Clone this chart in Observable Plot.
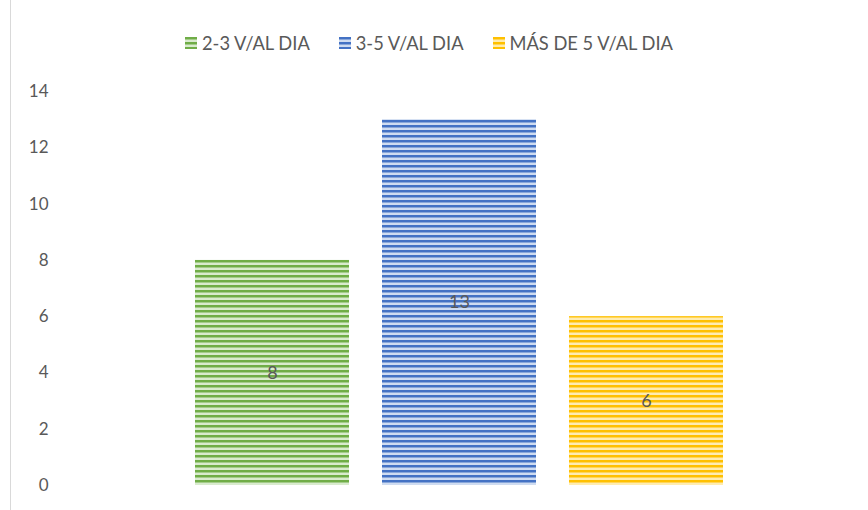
<!DOCTYPE html>
<html><head><meta charset="utf-8">
<script src="https://cdn.jsdelivr.net/npm/d3@7"></script>
<script src="https://cdn.jsdelivr.net/npm/@observablehq/plot@0.6"></script>
<style>
body{margin:0;background:#fff;font-family:Lato,"Open Sans",sans-serif;}
#wrap{position:relative;width:868px;height:510px;overflow:hidden;}
#frame{position:absolute;left:10px;top:0;width:0;height:510px;border-left:1px solid #d9d9d9;}
#legend{position:absolute;top:32px;left:0;width:868px;display:flex;justify-content:center;gap:29px;font-size:18.3px;color:#595959;margin-left:-5px;}
#legend span.item{display:flex;align-items:center;gap:5px;}
#legend svg{display:block}
</style></head>
<body><div id="wrap"><div id="frame"></div><div id="legend"></div><div id="chart"></div></div>
<script>
const series = ["2-3 V/AL DIA", "3-5 V/AL DIA", "MÁS DE 5 V/AL DIA"];
const values = [8, 13, 6];
const yTicks = [0, 2, 4, 6, 8, 10, 12, 14];
const baseColors = ["#70ad47", "#4472c4", "#ffc000"];
const lightColors = ["#d9ebce", "#cfdcf1", "#ffecb0"];
const patternIds = ["pat-green", "pat-blue", "pat-yellow"];

const data = series.map((s, i) => ({series: s, value: values[i], fill: `url(#${patternIds[i]})`}));

const chart = Plot.plot({
  width: 868,
  height: 510,
  marginTop: 91,
  marginBottom: 25,
  marginLeft: 61,
  marginRight: 11,
  style: {fontFamily: "Lato, 'Open Sans', sans-serif", fontSize: "17px", color: "#595959", background: "transparent"},
  x: {domain: series, paddingInner: 0.175, paddingOuter: 0.71, axis: null},
  y: {domain: [0, 14], ticks: yTicks, tickSize: 0, tickPadding: 13, label: null},
  color: {type: "ordinal", domain: series, range: data.map(d => d.fill)},
  marks: [
    Plot.barY(data, {x: "series", y: "value", fill: "series"}),
    Plot.text(data, {x: "series", y: d => d.value / 2, text: d => String(d.value), fill: "#595959", fontSize: 18})
  ]
});

// pattern defs
const ns = "http://www.w3.org/2000/svg";
const defs = document.createElementNS(ns, "defs");
patternIds.forEach((id, i) => {
  const p = document.createElementNS(ns, "pattern");
  p.setAttribute("id", id);
  p.setAttribute("patternUnits", "userSpaceOnUse");
  p.setAttribute("width", 8);
  p.setAttribute("height", 5);
  const r1 = document.createElementNS(ns, "rect");
  r1.setAttribute("width", 8); r1.setAttribute("height", 5); r1.setAttribute("fill", lightColors[i]);
  const r2 = document.createElementNS(ns, "rect");
  r2.setAttribute("width", 8); r2.setAttribute("height", 2.5); r2.setAttribute("fill", baseColors[i]);
  p.appendChild(r1); p.appendChild(r2);
  defs.appendChild(p);
});
chart.insertBefore(defs, chart.firstChild);
document.getElementById("chart").appendChild(chart);

// legend
const leg = document.getElementById("legend");
series.forEach((s, i) => {
  const item = document.createElement("span");
  item.className = "item";
  item.innerHTML = `<svg width="12" height="12"><rect width="12" height="12" fill="url(#${patternIds[i]})"/></svg><span>${s}</span>`;
  leg.appendChild(item);
});
</script></body></html>
